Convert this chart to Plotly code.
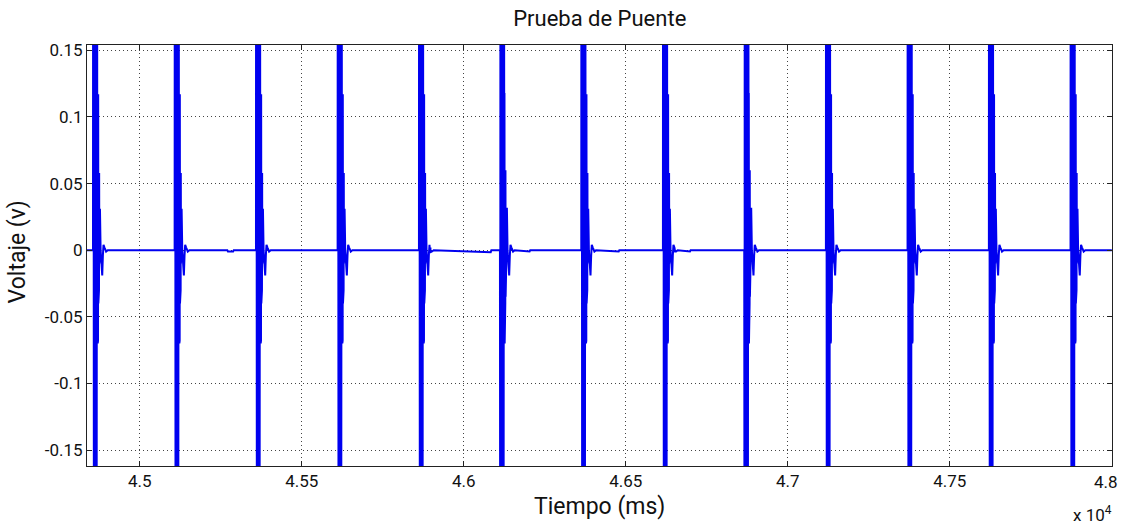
import plotly.graph_objects as go

# Start time (ms) of each bridge-test pulse
spike_starts = [44856, 45108, 45359, 45611, 45862, 46112, 46363,
                46615, 46866, 47118, 47370, 47621, 47873]

# Saturated burst at the start of each pulse (sampled every 0.5 ms)
burst_values = [0.33, -0.34, 0.35, -0.32, 0.34, -0.35, 0.32, -0.33, 0.35,
                -0.34, 0.33, -0.35, 0.34, -0.32, 0.35, -0.33, 0.34, -0.35,
                0.33, -0.34, 0.32, -0.35, 0.34, -0.33, 0.35]
burst_step = 0.5

# Ringing that follows the burst: offset from pulse start (ms) and voltage
ring_offsets = [12.5, 13.0, 13.5, 14.0, 14.5, 15.0, 15.5, 16.0, 16.5, 17.0,
                17.5, 18.0, 18.5, 19.0, 20.0, 21.0, 23.0, 26.0, 28.0, 30.0,
                32.0, 35.0, 40.0, 45.0]
ring_values = [0.118, -0.070, 0.118, -0.070, 0.118, -0.068, 0.117, -0.040,
               0.060, -0.035, 0.060, -0.030, 0.058, -0.010, 0.031, 0.031,
               0.000, -0.019, -0.019, -0.004, 0.004, 0.002, -0.001, 0.000]

# Slight baseline drifts between pulses: start (ms), end (ms), voltage
drift_starts = [45270, 45895, 46150, 46400, 46650]
drift_ends = [45290, 46085, 46205, 46480, 46700]
drift_values = [-0.001, -0.0015, -0.001, -0.001, -0.001]

x_range = [44837, 48000]
y_range = [-0.162, 0.154]
x_tickvals = [45000, 45500, 46000, 46500, 47000, 47500, 48000]
# the last label sits on the right frame edge and is placed separately
x_ticktext = ["4.5", "4.55", "4.6", "4.65", "4.7", "4.75", ""]
x_edge_label = "4.8"
y_tickvals = [0.15, 0.1, 0.05, 0, -0.05, -0.1, -0.15]
y_ticktext = ["0.15", "0.1", "0.05", "0", "-0.05", "-0.1", "-0.15"]

# Assemble the waveform from pulses, ringing and baseline
points = [(x_range[0], 0.0), (x_range[1], 0.0)]
for t0 in spike_starts:
    points.append((t0 - 0.5, 0.0))
    for i, v in enumerate(burst_values):
        points.append((t0 + i * burst_step, v))
    for off, v in zip(ring_offsets, ring_values):
        points.append((t0 + off, v))
for a, b, v in zip(drift_starts, drift_ends, drift_values):
    points += [(a, 0.0), (a + 2, v), (b - 2, v), (b, 0.0)]
points.sort(key=lambda p: p[0])
xs = [p[0] for p in points]
ys = [p[1] for p in points]

FONT = "Roboto, Liberation Sans, sans-serif"

fig = go.Figure()
fig.add_trace(go.Scatter(x=xs, y=ys, mode="lines",
                         line=dict(color="#0000f0", width=2),
                         showlegend=False, hoverinfo="skip"))

axis_common = dict(showline=True, linecolor="#222222", linewidth=1,
                   mirror="ticks", ticks="inside", ticklen=5,
                   tickcolor="#222222", showgrid=True, gridcolor="#444444",
                   griddash="1px,3px", gridwidth=1, zeroline=False,
                   automargin=False,
                   tickfont=dict(family=FONT, size=17, color="#111111"))

fig.update_xaxes(range=[x_range[0], x_range[1] + 0.5], tickmode="array",
                 tickvals=x_tickvals, ticktext=x_ticktext, **axis_common)
fig.update_yaxes(range=y_range, tickmode="array", tickvals=y_tickvals,
                 ticktext=y_ticktext, **axis_common)

fig.update_layout(
    width=1121, height=529,
    margin=dict(l=87, r=9, t=45, b=63),
    paper_bgcolor="white", plot_bgcolor="white",
    title=dict(text="Prueba de Puente", x=0.535, xanchor="center",
               y=1 - 18 / 529, yanchor="middle",
               font=dict(family=FONT, size=22, color="#111111")),
    annotations=[
        dict(text=x_edge_label, xref="paper", yref="paper", x=1.0,
             y=-0.038, xanchor="right", yanchor="middle", xshift=8,
             showarrow=False,
             font=dict(family=FONT, size=17, color="#111111")),
        dict(text="Tiempo (ms)", xref="paper", yref="paper", x=0.5,
             y=-0.097, xanchor="center", yanchor="middle", showarrow=False,
             font=dict(family=FONT, size=23, color="#111111")),
        dict(text="Voltaje (v)", xref="paper", yref="paper", x=-0.068,
             y=0.508, xanchor="center", yanchor="middle", showarrow=False,
             textangle=-90,
             font=dict(family=FONT, size=23, color="#111111")),
        dict(text="x 10<sup>4</sup>", xref="paper", yref="paper", x=0.981,
             y=-0.115, xanchor="center", yanchor="middle", showarrow=False,
             font=dict(family=FONT, size=17, color="#111111")),
    ],
)

fig.write_html("out.html")
